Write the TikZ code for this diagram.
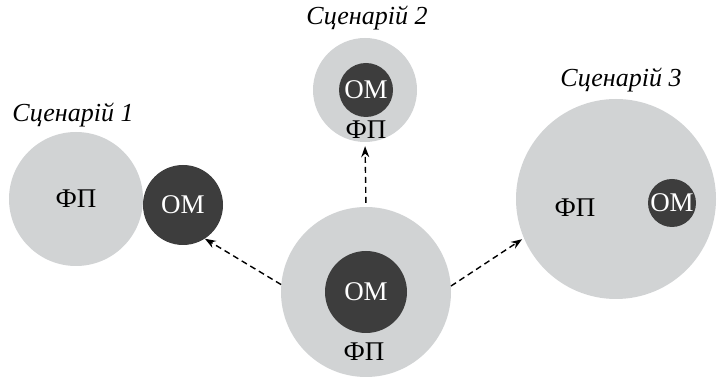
\documentclass[tikz,border=0pt]{standalone}
\usepackage{fontspec}
\setmainfont{Liberation Serif}
\usetikzlibrary{arrows.meta}
\definecolor{fpgray}{RGB}{209,211,212}
\definecolor{omgray}{RGB}{61,61,61}

\begin{document}
\begin{tikzpicture}[x=1pt,y=1pt,
		every node/.style={font=\fontsize{27}{32}\selectfont,inner sep=0pt},
		fp/.style={circle,fill=fpgray,minimum size=#1},
		om/.style={circle,fill=omgray,text=white,minimum size=#1},
		title/.style={font=\fontsize{26}{30}\selectfont\itshape,anchor=base},
		flow/.style={-{Stealth[length=11pt,width=8pt]},line width=1.4pt,dash pattern=on 6pt off 4pt}]
		\useasboundingbox (0,0) rectangle (720,377);
		
		% scenario 1
		\node[fp=134pt] (fp1) at (76,178) {ФП};
		\node[om=80pt] (om1) at (183,172) {ОМ};
		\node[title] (t1) at (73,255) {Сценарій 1};
		
		% scenario 2
		\node[fp=104pt] (fp2) at (365,287) {};
		\node[om=54pt] (om2) at (366,287) {ОМ};
		\node (l2) at (366,247) {ФП};
		\node[title] (t2) at (367,352) {Сценарій 2};
		
		% scenario 3
		\node[fp=200pt] (fp3) at (616,178) {};
		\node[om=48pt] (om3) at (672,174) {ОМ};
		\node (l3) at (575,169) {ФП};
		\node[title] (t3) at (621,290) {Сценарій 3};
		
		% initial state
		\node[fp=170pt] (fp0) at (366,85) {};
		\node[om=82pt] (om0) at (366,85) {ОМ};
		\node (l0) at (364,25) {ФП};
		
		\draw[flow] (fp0.175) -- (om1.303);
		\draw[flow,shorten <=4pt,shorten >=4pt] (fp0.north) -- (fp2.south);
		\draw[flow,shorten >=2pt] (fp0.4) -- (fp3.203);
	\end{tikzpicture}
\end{document}
